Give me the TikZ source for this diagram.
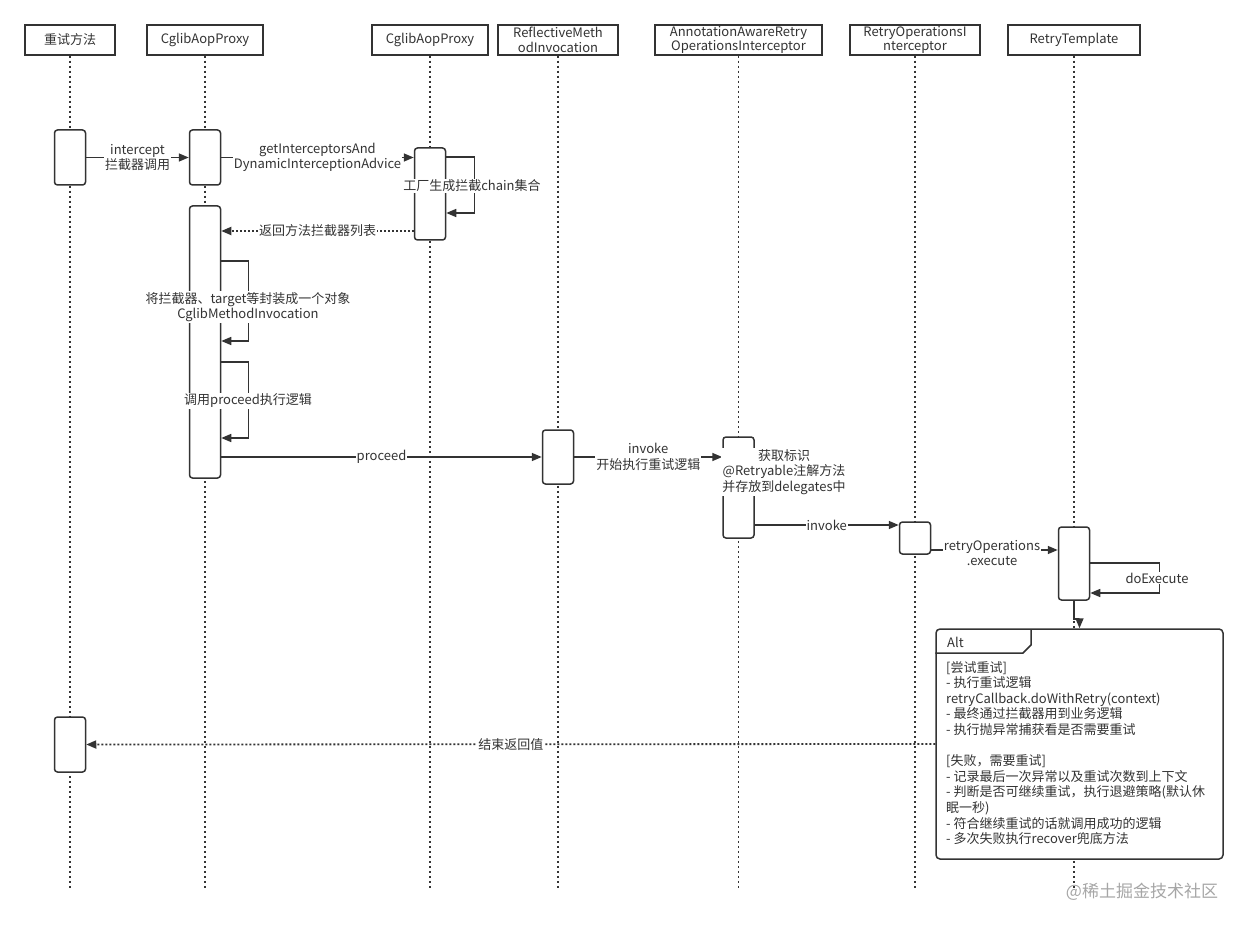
\documentclass[tikz,border=0pt]{standalone}
\usepackage{fontspec}
\setmainfont{Noto Sans CJK SC}
\usetikzlibrary{arrows.meta}
\definecolor{ink}{HTML}{333333}
\tikzstyle{head} = [rectangle, draw=ink, line width=1.5pt, fill=white, minimum height=30pt, inner sep=1pt, align=center, text=ink, font=\fontsize{13}{14.5}\selectfont]
\tikzstyle{act} = [rectangle, rounded corners=3pt, draw=ink, line width=1.5pt, fill=white, minimum width=31pt, inner sep=0pt]
\tikzstyle{life} = [ink, line width=1.8pt, dash pattern=on 2pt off 3pt]
\tikzstyle{arrow} = [ink, line width=1.5pt, -{Triangle[length=10pt,width=8pt]}]
\tikzstyle{reply} = [arrow, line width=1.8pt, dash pattern=on 2pt off 2pt]
\tikzstyle{lbl} = [fill=white, inner sep=1pt, align=center, text=ink, font=\fontsize{13}{15.5}\selectfont]

\begin{document}
\begin{tikzpicture}[x=1pt, y=-1pt]
		\useasboundingbox (0,0) rectangle (1248,928);
		% participants
		\node[head, minimum width=90pt] (caller) at (70,40) {重试方法};
		\node[head, minimum width=116pt] (proxyA) at (205,40) {CglibAopProxy};
		\node[head, minimum width=116pt] (proxyB) at (430,40) {CglibAopProxy};
		\node[head, minimum width=120pt] (reflective) at (558,40) {ReflectiveMeth\\odInvocation};
		\node[head, minimum width=167pt] (annotation) at (738.5,40) {AnnotationAwareRetry\\OperationsInterceptor};
		\node[head, minimum width=130pt] (retryops) at (915,40) {RetryOperationsI\\nterceptor};
		\node[head, minimum width=132pt] (template) at (1074,40) {RetryTemplate};
		\foreach \p in {caller, proxyA, proxyB, reflective, annotation, retryops, template}
			\draw[life] (\p.south) -- (\p.south |- 0,890);

		% activations
		\node[act, minimum height=55pt] (a1) at (70,157.5) {};
		\node[act, minimum height=55pt] (a2) at (205,157.5) {};
		\node[act, minimum height=92pt] (a3) at (430,194) {};
		\node[act, minimum height=272pt] (a4) at (205,342) {};
		\node[act, minimum height=54pt] (a5) at (558,457) {};
		\node[act, minimum height=101pt] (a6) at (738.5,487.5) {};
		\node[act, minimum height=32pt] (a7) at (915,538) {};
		\node[act, minimum height=73pt] (a8) at (1074,563.5) {};
		\node[act, minimum height=55pt] (a9) at (70,744.5) {};

		% messages
		\draw[arrow] (a1) -- (a2) node[lbl, midway] (lblIntercept) {intercept\\拦截器调用};
		\draw[arrow] (a2.east) -- (a2.east -| a3.west) node[lbl, midway] (lblGet) {getInterceptorsAnd\\DynamicInterceptionAdvice};
		\draw[arrow] (a3.east |- 0,157) -- ++(28,0) |- (a3.east |- 0,213);
		\node[lbl] (lblChain) at (472,186) {工厂生成拦截chain集合};
		\draw[reply] (a3.west |- 0,231) -- (a4.east |- 0,231) node[lbl, midway] (lblList) {返回方法拦截器列表};
		\draw[arrow] (a4.east |- 0,261) -- ++(27,0) |- (a4.east |- 0,341);
		\node[lbl] (lblPack) at (248,307) {将拦截器、target等封装成一个对象\\CglibMethodInvocation};
		\draw[arrow] (a4.east |- 0,362) -- ++(27,0) |- (a4.east |- 0,438);
		\node[lbl] (lblProceed) at (248,401) {调用proceed执行逻辑};
		\draw[arrow] (a4.east |- a5) -- (a5.west) node[lbl, midway] (lblProc) {proceed};
		\draw[arrow] (a5.east) -- (a5.east -| a6.west) node[lbl, midway] (lblInvoke) {invoke\\开始执行重试逻辑};
		\node[lbl] (lblDelegates) at (784,472) {获取标识\\@Retryable注解方法\\并存放到delegates中};
		\draw[arrow] (a6.east |- 0,525) -- (a7.west |- 0,525) node[lbl, midway] (lblInvoke2) {invoke};
		\draw[arrow] (a7.east |- 0,550) -- (a8.west |- 0,550);
		\node[lbl] (lblExecute) at (992,553) {retryOperations\\.execute};
		\draw[arrow] (a8.east |- 0,563) -- ++(69,0) |- (a8.east |- 0,593);
		\node[lbl] (lblDo) at (1157,578) {doExecute};

		% alt fragment
		\node[draw=ink, fill=white, line width=1.5pt, rounded corners=4pt, minimum width=287pt, minimum height=230pt, inner sep=0pt] (altBox) at (1079.5,744) {};
		\draw[ink, line width=1.5pt] (altBox.north west |- 0,653) -- (1023,653) -- (1031,645) -- (1031,629);
		\node[text=ink, anchor=west, inner sep=0pt, font=\fontsize{13}{15.5}\selectfont] (altTag) at (947,642) {Alt};
		\node[anchor=north west, align=left, inner sep=0pt, text=ink, font=\fontsize{13}{15.6}\selectfont] (altText) at (946,661) {%
			{[尝试重试]}\\
			- 执行重试逻辑\\
			retryCallback.doWithRetry(context)\\
			- 最终通过拦截器用到业务逻辑\\
			- 执行抛异常捕获看是否需要重试\\
			~\\
			{[失败，需要重试]}\\
			- 记录最后一次异常以及重试次数到上下文\\
			- 判断是否可继续重试，执行退避策略(默认休\\
			眠一秒)\\
			- 符合继续重试的话就调用成功的逻辑\\
			- 多次失败执行recover兜底方法};
		\draw[arrow] (a8.south) -- ++(0,18) -| (altBox.north);
		\draw[reply] (altBox.west) -- (a9.east) node[lbl, midway] (lblReturn) {结束返回值};

		\node[text=black!35, font=\fontsize{17}{20}\selectfont] (mark) at (1142,892) {@稀土掘金技术社区};
	\end{tikzpicture}
\end{document}
